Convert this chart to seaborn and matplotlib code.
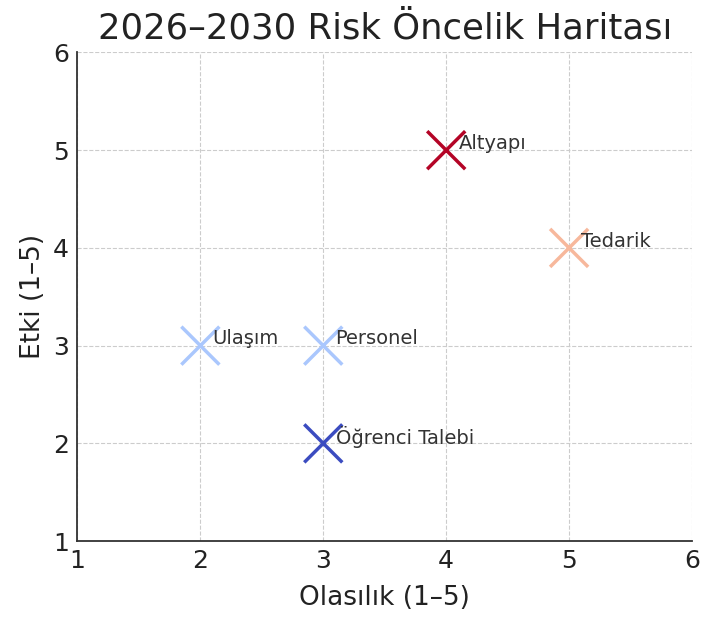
import matplotlib
matplotlib.use("Agg")
import matplotlib.pyplot as plt
import seaborn as sns
import pandas as pd

# Veriler
riskler = ['Öğrenci Talebi', 'Personel', 'Altyapı', 'Tedarik', 'Ulaşım']
olasilik = [3, 3, 4, 5, 2]
etki = [2, 3, 5, 4, 3]

df = pd.DataFrame({'Risk': riskler, 'Olasılık': olasilik, 'Etki': etki})

sns.set_style('white')
plt.rcParams['font.family'] = ['DejaVu Sans']

fig, ax = plt.subplots(figsize=(7.04, 6.17), dpi=100)
sns.scatterplot(data=df, x='Olasılık', y='Etki', hue='Etki', palette='coolwarm',
                hue_norm=(2, 5), marker='x', s=750, linewidth=2.5, legend=False, ax=ax)

for _, row in df.iterrows():
    ax.text(row['Olasılık'] + 0.1, row['Etki'] + 0.07, row['Risk'],
            fontsize=14, color='#333333', va='center', ha='left')

ax.set_xlim(1, 6)
ax.set_ylim(1, 6)
ax.set_xticks([1, 2, 3, 4, 5, 6])
ax.set_yticks([1, 2, 3, 4, 5, 6])
ax.tick_params(labelsize=18, colors='#222222', length=4, pad=2)
ax.set_xlabel('Olasılık (1–5)', fontsize=19, color='#222222', labelpad=8)
ax.set_ylabel('Etki (1–5)', fontsize=19, color='#222222', labelpad=5)
ax.set_title('2026–2030 Risk Öncelik Haritası', fontsize=25.5, color='#222222', pad=10)
ax.grid(True, linestyle='--', color='#cccccc', linewidth=0.8)
sns.despine(ax=ax)
for sp in ['left', 'bottom']:
    ax.spines[sp].set_color('#333333')
    ax.spines[sp].set_linewidth(1.3)

plt.subplots_adjust(left=0.11, right=0.983, top=0.915, bottom=0.123)
plt.savefig('out.png', dpi=100)
